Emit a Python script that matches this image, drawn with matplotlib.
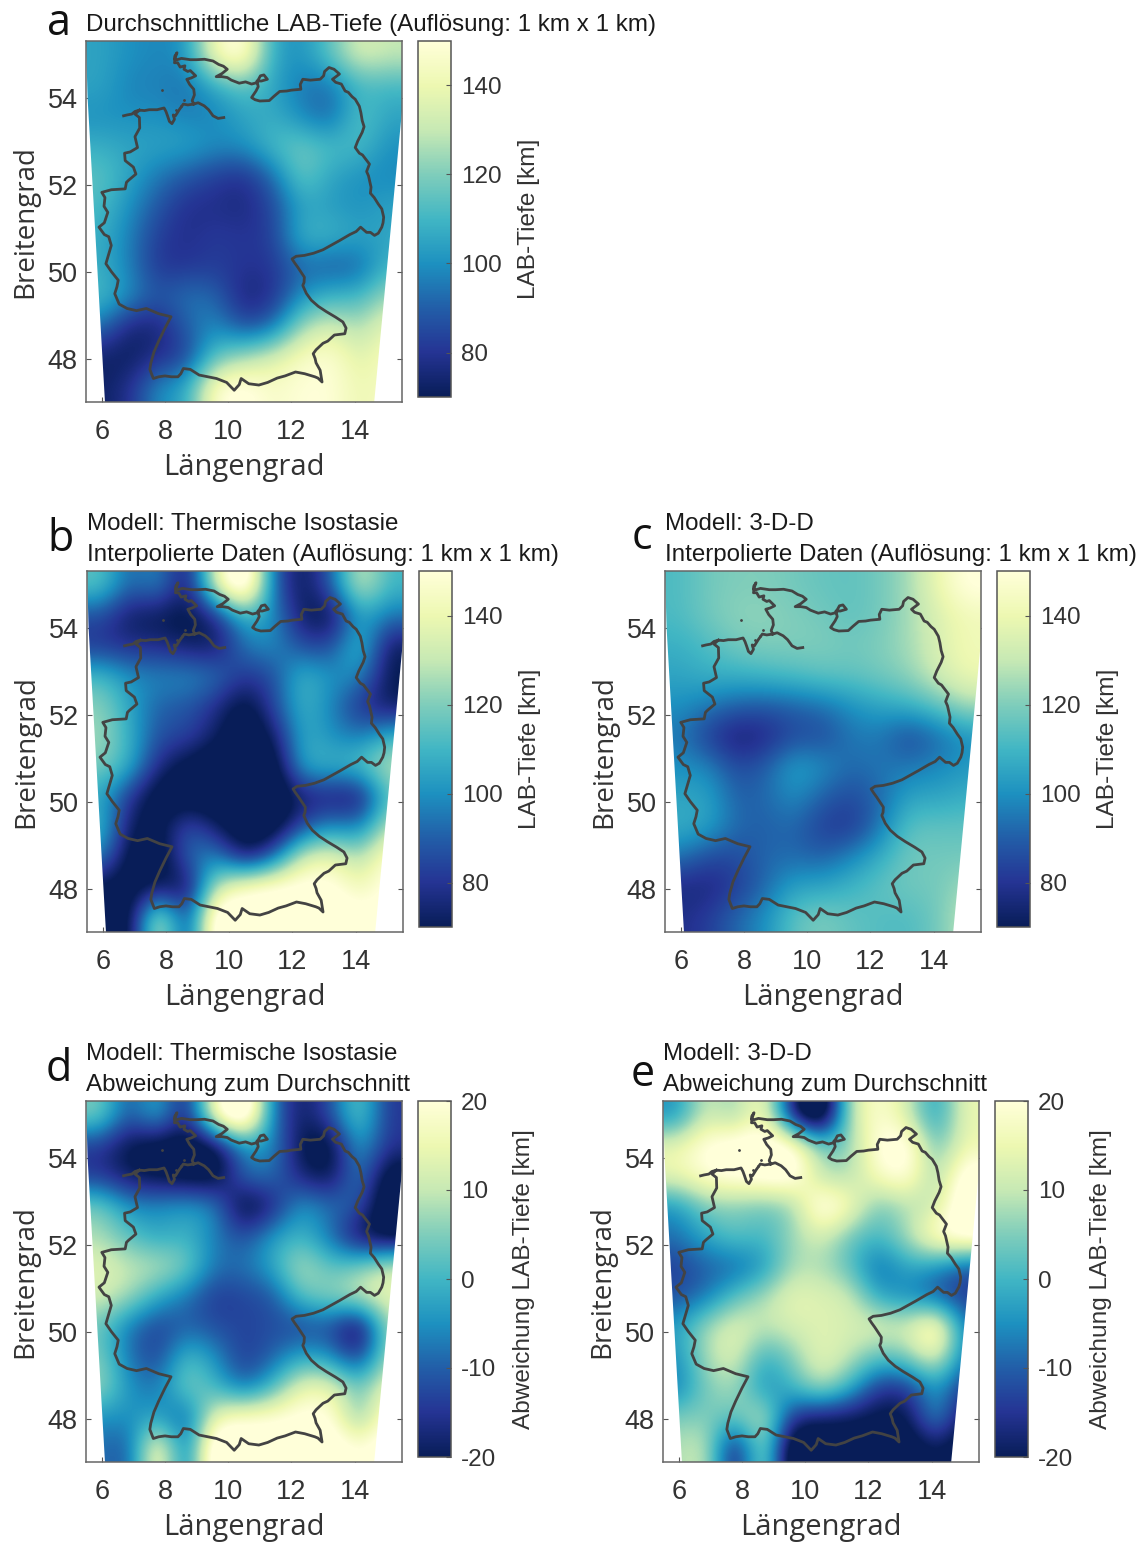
import numpy as np
import matplotlib
matplotlib.use('Agg')
import matplotlib.pyplot as plt
from matplotlib.patches import Polygon

plt.rcParams['font.family'] = ['Liberation Sans', 'DejaVu Sans']
plt.rcParams['axes.unicode_minus'] = False

# grid values, rows run north to south, 11 columns west to east
mean_depth = [
    [105, 100, 98, 100, 145, 155, 105, 100, 115, 135, 130],
    [105, 97, 97, 93, 105, 115, 105, 95, 93, 110, 110],
    [100, 100, 100, 97, 97, 105, 108, 98, 90, 115, 105],
    [108, 105, 105, 105, 100, 100, 112, 118, 112, 112, 100],
    [115, 105, 95, 88, 82, 78, 92, 118, 105, 100, 98],
    [112, 100, 88, 78, 78, 76, 84, 105, 103, 100, 105],
    [108, 97, 82, 78, 82, 80, 82, 110, 110, 105, 105],
    [108, 97, 80, 80, 82, 80, 80, 92, 88, 90, 110],
    [112, 100, 88, 95, 92, 74, 78, 100, 110, 110, 125],
    [95, 74, 74, 90, 100, 85, 92, 125, 135, 125, 140],
    [72, 70, 78, 82, 115, 125, 135, 145, 150, 135, 145],
    [72, 78, 100, 105, 150, 155, 145, 150, 150, 140, 145],
]
isostasy_depth = [
    [115, 90, 100, 68, 140, 175, 90, 68, 90, 135, 110],
    [85, 70, 68, 65, 75, 110, 100, 70, 65, 105, 95],
    [80, 78, 78, 72, 70, 95, 100, 85, 85, 115, 70],
    [112, 100, 98, 100, 95, 80, 85, 112, 100, 100, 68],
    [122, 105, 90, 88, 78, 62, 85, 110, 98, 78, 70],
    [125, 108, 86, 85, 72, 58, 70, 108, 100, 95, 110],
    [120, 108, 76, 64, 58, 58, 58, 108, 110, 115, 130],
    [105, 80, 60, 60, 58, 58, 56, 72, 72, 68, 115],
    [112, 70, 64, 90, 72, 58, 60, 85, 100, 95, 130],
    [100, 62, 60, 92, 100, 68, 90, 135, 140, 125, 150],
    [66, 62, 70, 65, 130, 150, 155, 155, 155, 140, 155],
    [62, 62, 140, 76, 170, 160, 160, 160, 160, 155, 155],
]
model_3dd_depth = [
    [112, 118, 120, 120, 118, 116, 115, 118, 125, 140, 152],
    [112, 118, 122, 122, 120, 118, 115, 118, 125, 135, 142],
    [108, 112, 118, 120, 120, 120, 118, 120, 125, 135, 142],
    [105, 108, 108, 110, 112, 115, 115, 118, 122, 132, 140],
    [100, 95, 90, 88, 90, 93, 100, 105, 108, 115, 125],
    [95, 82, 72, 76, 85, 85, 95, 95, 84, 92, 100],
    [100, 98, 85, 90, 105, 100, 92, 95, 95, 98, 102],
    [105, 105, 90, 92, 100, 90, 85, 92, 105, 105, 108],
    [108, 105, 92, 90, 92, 82, 80, 95, 115, 115, 115],
    [95, 85, 85, 92, 92, 90, 98, 108, 118, 118, 118],
    [76, 75, 82, 92, 105, 105, 110, 115, 118, 118, 125],
    [78, 82, 92, 100, 115, 120, 115, 113, 112, 118, 130],
]
isostasy_diff = [
    [5, -12, 0, -20, 20, 35, -8, -20, -12, 5, -15],
    [-15, -22, -25, -25, -25, -5, -5, -22, -25, -2, -15],
    [-15, -20, -22, -24, -25, -8, -8, -18, -22, -5, -25],
    [5, -5, -5, -3, -5, -26, -18, -3, -8, -10, -28],
    [8, 2, -3, 0, -7, -12, -3, 0, -8, -22, -25],
    [14, 10, 10, 5, -8, -8, -2, 10, 2, 5, 12],
    [12, 8, -2, -8, -15, -13, -12, 3, 6, 12, 15],
    [3, -8, -14, -10, -12, -13, -12, -14, -12, -26, 8],
    [5, -8, -14, 2, -5, -15, -10, -2, -5, -16, 8],
    [8, -5, -8, 6, 0, -10, 0, 15, 15, 3, 15],
    [-5, -5, -3, -12, 15, 20, 20, 22, 22, 2, 22],
    [-8, -12, 22, -12, 32, 25, 25, 25, 25, 20, 25],
]
model_3dd_diff = [
    [-5, 12, 5, 20, -20, -35, 10, 20, 12, -5, 15],
    [15, 22, 25, 25, 25, 5, 5, 22, 25, 2, 15],
    [15, 20, 22, 24, 25, 8, 8, 18, 22, 5, 25],
    [-5, 5, 5, 3, 5, 26, 18, 3, 8, 10, 28],
    [-8, -2, 3, 0, 7, 12, 3, 0, 8, 22, 25],
    [-14, -10, -10, -5, 8, 8, 2, -10, -2, -5, -12],
    [-12, -8, 2, 8, 15, 13, 12, -3, -6, -12, -15],
    [-3, 8, 14, 10, 12, 13, 12, 14, 12, 26, -8],
    [-5, 8, 14, -2, 5, 15, 10, 2, 5, 16, -8],
    [-8, 5, 8, -6, 0, 10, 0, -15, -15, -3, -15],
    [5, 5, 3, 12, -15, -20, -20, -22, -22, -2, -22],
    [8, 12, -22, 12, -32, -25, -25, -25, -25, -20, -25],
]

# outline of Germany, nan breaks the line
border_lon = [6.69, 6.8, 6.95, 7.05, 7.19, 7.35, 7.5, 7.75, 7.97, 8.03, 8.08, 8.14, 8.22, 8.3, 8.26, 8.33, 8.45, 8.58,
              8.72, 8.91, 9.05, 9.24, 9.38, 9.52, 9.68, 9.86, np.nan,
              8.91, 8.86, 8.93, 8.91, 8.78, 8.69, 8.83, 8.97, 8.8, 8.72, 8.6, 8.63, 8.48, 8.4, 8.3, 8.33, 8.38, 8.31,
              8.3, 8.38, 8.52, 8.8, 9.0, 9.25, 9.52, 9.7, 9.85, 9.97, 9.8, 9.62, 9.8, 9.97,
              10.1, 10.35, 10.55, 10.74, 10.9, 11.02, 11.13, 11.24, 11.05, 10.91, 10.95, 10.88, 10.74, 10.85, 11.0, 11.3,
              11.45, 11.63, 11.85, 12.0, 12.3, 12.28, 12.36, 12.6, 12.91, 13.02, 13.05, 13.19, 13.35, 13.52, 13.3, 13.4,
              13.58, 13.7, 13.8, 13.92, 14.02, 14.15, 14.2, 14.24, 14.3, 14.24, 14.1, 14.02, 14.15, 14.25, 14.47, 14.38,
              14.44, 14.52, 14.5, 14.62, 14.75, 14.86, 14.92, 14.9, 14.86, 14.75, 14.63, 14.5, 14.38, 14.19, 14.05, 13.85,
              13.52, 13.25, 13.0, 12.7, 12.41, 12.15, 12.02, 12.1, 12.2, 12.41, 12.4, 12.36, 12.47, 12.63, 12.85, 13.1,
              13.4, 13.63, 13.73, 13.69, 13.36, 13.15, 13.0, 12.78, 12.69, 12.75, 12.78, 12.91, 12.97, 12.84, 12.74, 12.42,
              12.13, 11.8, 11.55, 11.25, 10.97, 10.65, 10.41, 10.35, 10.19, 9.95, 9.63, 9.35, 9.08, 8.8, 8.58, 8.5, 8.41,
              8.2, 8.0, 7.8, 7.63, 7.52, 7.55, 7.65, 7.8, 8.0, 8.19, 7.8, 7.41, 7.1, 6.8, 6.55, 6.41, 6.48, 6.52, 6.3, 6.13,
              6.2, 6.3, 6.22, 6.08, 5.91, 6.08, 6.19, 6.07, 6.1, 6.0, 6.3, 6.74, 6.78, 6.85, 7.08, 7.0, 6.74, 6.72, 6.9, 7.13,
              7.05, 7.2, 7.19, 7.05, 7.19]
border_lat = [53.58, 53.6, 53.62, 53.68, 53.71, 53.7, 53.72, 53.72, 53.76, 53.68, 53.58, 53.45, 53.40, 53.5, 53.6, 53.58, 53.72, 53.85,
              53.83, 53.85, 53.88, 53.81, 53.72, 53.58, 53.52, 53.54, np.nan,
              53.85, 53.93, 54.06, 54.19, 54.3, 54.42, 54.45, 54.5, 54.62, 54.6, 54.65, 54.73, 54.7, 54.8, 54.8, 54.93, 55.03, 54.95,
              54.88, 54.87, 54.9, 54.87, 54.87, 54.88, 54.84, 54.76, 54.72, 54.65, 54.55, 54.48, 54.48, 54.46,
              54.4, 54.33, 54.36, 54.31, 54.34, 54.5, 54.52, 54.42, 54.38, 54.38, 54.25, 54.15, 54.0, 53.95, 53.92, 53.93,
              54.03, 54.14, 54.15, 54.17, 54.19, 54.3, 54.42, 54.4, 54.42, 54.5, 54.6, 54.69, 54.65, 54.54, 54.42, 54.35,
              54.31, 54.15, 54.12, 54.02, 53.96, 53.8, 53.65, 53.47, 53.33, 53.2, 53.0, 52.85, 52.72, 52.68, 52.47, 52.3,
              52.2, 51.94, 51.8, 51.7, 51.55, 51.44, 51.25, 51.12, 51.02, 50.88, 50.83, 50.9, 50.9, 51.02, 50.92, 50.85,
              50.71, 50.6, 50.5, 50.42, 50.37, 50.35, 50.29, 50.2, 50.1, 49.87, 49.75, 49.68, 49.5, 49.34, 49.2, 49.08,
              48.95, 48.84, 48.7, 48.57, 48.54, 48.4, 48.35, 48.2, 48.11, 48.0, 47.9, 47.73, 47.46, 47.55, 47.58, 47.65,
              47.69, 47.6, 47.55, 47.45, 47.39, 47.42, 47.54, 47.4, 47.27, 47.45, 47.54, 47.58, 47.62, 47.75, 47.77, 47.65, 47.58,
              47.58, 47.6, 47.58, 47.54, 47.75, 47.89, 48.15, 48.4, 48.7, 48.96, 49.03, 49.15, 49.1, 49.15, 49.25, 49.49, 49.65, 49.8, 50.0, 50.18,
              50.35, 50.6, 50.8, 50.85, 51.02, 51.12, 51.36, 51.5, 51.7, 51.82, 51.88, 51.9, 52.05, 52.1, 52.24, 52.4, 52.55, 52.72, 52.75, 52.85,
              53.1, 53.3, 53.54, 53.62, 53.71]
island_lon = [7.9, 8.35, 8.5, 8.6]
island_lat = [54.18, 53.72, 53.8, 53.95]

# edge of the data area
edge_lon = [5.5, 15.5, 15.5, 14.62, 6.1, 5.55]
edge_lat = [55.3, 55.3, 53.7, 47.0, 47.0, 54.0]

depth_ticks = [80, 100, 120, 140]
diff_ticks = [-20, -10, 0, 10, 20]
lon_ticks = [6, 8, 10, 12, 14]
lat_ticks = [48, 50, 52, 54]

W = 1146
H = 1542
fig = plt.figure(figsize=(W / 100, H / 100), dpi=100)


def box(x0, y0, x1, y1):
    return [x0 / W, 1 - y1 / H, (x1 - x0) / W, (y1 - y0) / H]


def panel(letter, title, grid, left, top, vmin, vmax, cticks, clabel, lx, ly):
    ax = fig.add_axes(box(left, top, left + 316, top + 361))
    im = ax.imshow(grid, cmap='YlGnBu_r', vmin=vmin, vmax=vmax, origin='upper', aspect='auto',
                   extent=(5.5, 15.5, 47, 55.3), interpolation='bicubic', zorder=1)
    im.set_clip_path(Polygon(np.column_stack([edge_lon, edge_lat]), transform=ax.transData))
    ax.plot(border_lon, border_lat, color='#434343', lw=2.0, zorder=3)
    ax.plot(island_lon, island_lat, ls='none', marker='.', ms=2, color='#434343', zorder=3)
    ax.set_xlim(5.5, 15.5)
    ax.set_ylim(47, 55.3)
    ax.set_xticks(lon_ticks)
    ax.set_yticks(lat_ticks)
    ax.set_axisbelow(True)
    ax.tick_params(direction='in', length=3.5, width=0.8, color='#555555', labelcolor='#333333',
                   labelsize=19.5, top=True, right=True)
    ax.tick_params(axis='x', pad=12)
    ax.tick_params(axis='y', pad=6)
    for s in ax.spines.values():
        s.set_color('#666666')
        s.set_linewidth(1.1)
    ax.set_xlabel('Längengrad', fontsize=21, color='#333333', family='Open Sans', labelpad=6)
    ax.set_ylabel('Breitengrad', fontsize=20, color='#333333', family='Open Sans', labelpad=6)

    cax = fig.add_axes(box(left + 332, top, left + 365, top + 356))
    cb = fig.colorbar(im, cax=cax)
    cb.set_ticks(cticks)
    cb.ax.tick_params(direction='in', length=3.5, width=0.8, color='#555555', labelcolor='#333333',
                      labelsize=17.5, pad=7)
    cb.outline.set_edgecolor('#555555')
    cb.outline.set_linewidth(1.1)
    cb.set_label(clabel, fontsize=17.6, color='#333333', labelpad=12)

    for i, line in enumerate(title):
        fig.text(left / W, 1 - (top - 16 - 30.5 * (len(title) - 1 - i)) / H, line, fontsize=17.4,
                 color='#1a1a1a', ha='left', va='center')
    fig.text(lx / W, 1 - ly / H, letter, fontsize=31, family='Open Sans', color='#111111',
             ha='left', va='center')


panel('a', ['Durchschnittliche LAB-Tiefe (Auflösung: 1 km x 1 km)'], mean_depth, 86, 41,
      70, 150, depth_ticks, 'LAB-Tiefe [km]', 47, 24)
panel('b', ['Modell: Thermische Isostasie', 'Interpolierte Daten (Auflösung: 1 km x 1 km)'], isostasy_depth, 87, 571,
      70, 150, depth_ticks, 'LAB-Tiefe [km]', 47, 540)
panel('c', ['Modell: 3-D-D', 'Interpolierte Daten (Auflösung: 1 km x 1 km)'], model_3dd_depth, 665, 571,
      70, 150, depth_ticks, 'LAB-Tiefe [km]', 632, 538)
panel('d', ['Modell: Thermische Isostasie', 'Abweichung zum Durchschnitt'], isostasy_diff, 86, 1101,
      -20, 20, diff_ticks, 'Abweichung LAB-Tiefe [km]', 46, 1070)
panel('e', ['Modell: 3-D-D', 'Abweichung zum Durchschnitt'], model_3dd_diff, 663, 1101,
      -20, 20, diff_ticks, 'Abweichung LAB-Tiefe [km]', 631, 1075)

fig.savefig('out.png', dpi=100)
